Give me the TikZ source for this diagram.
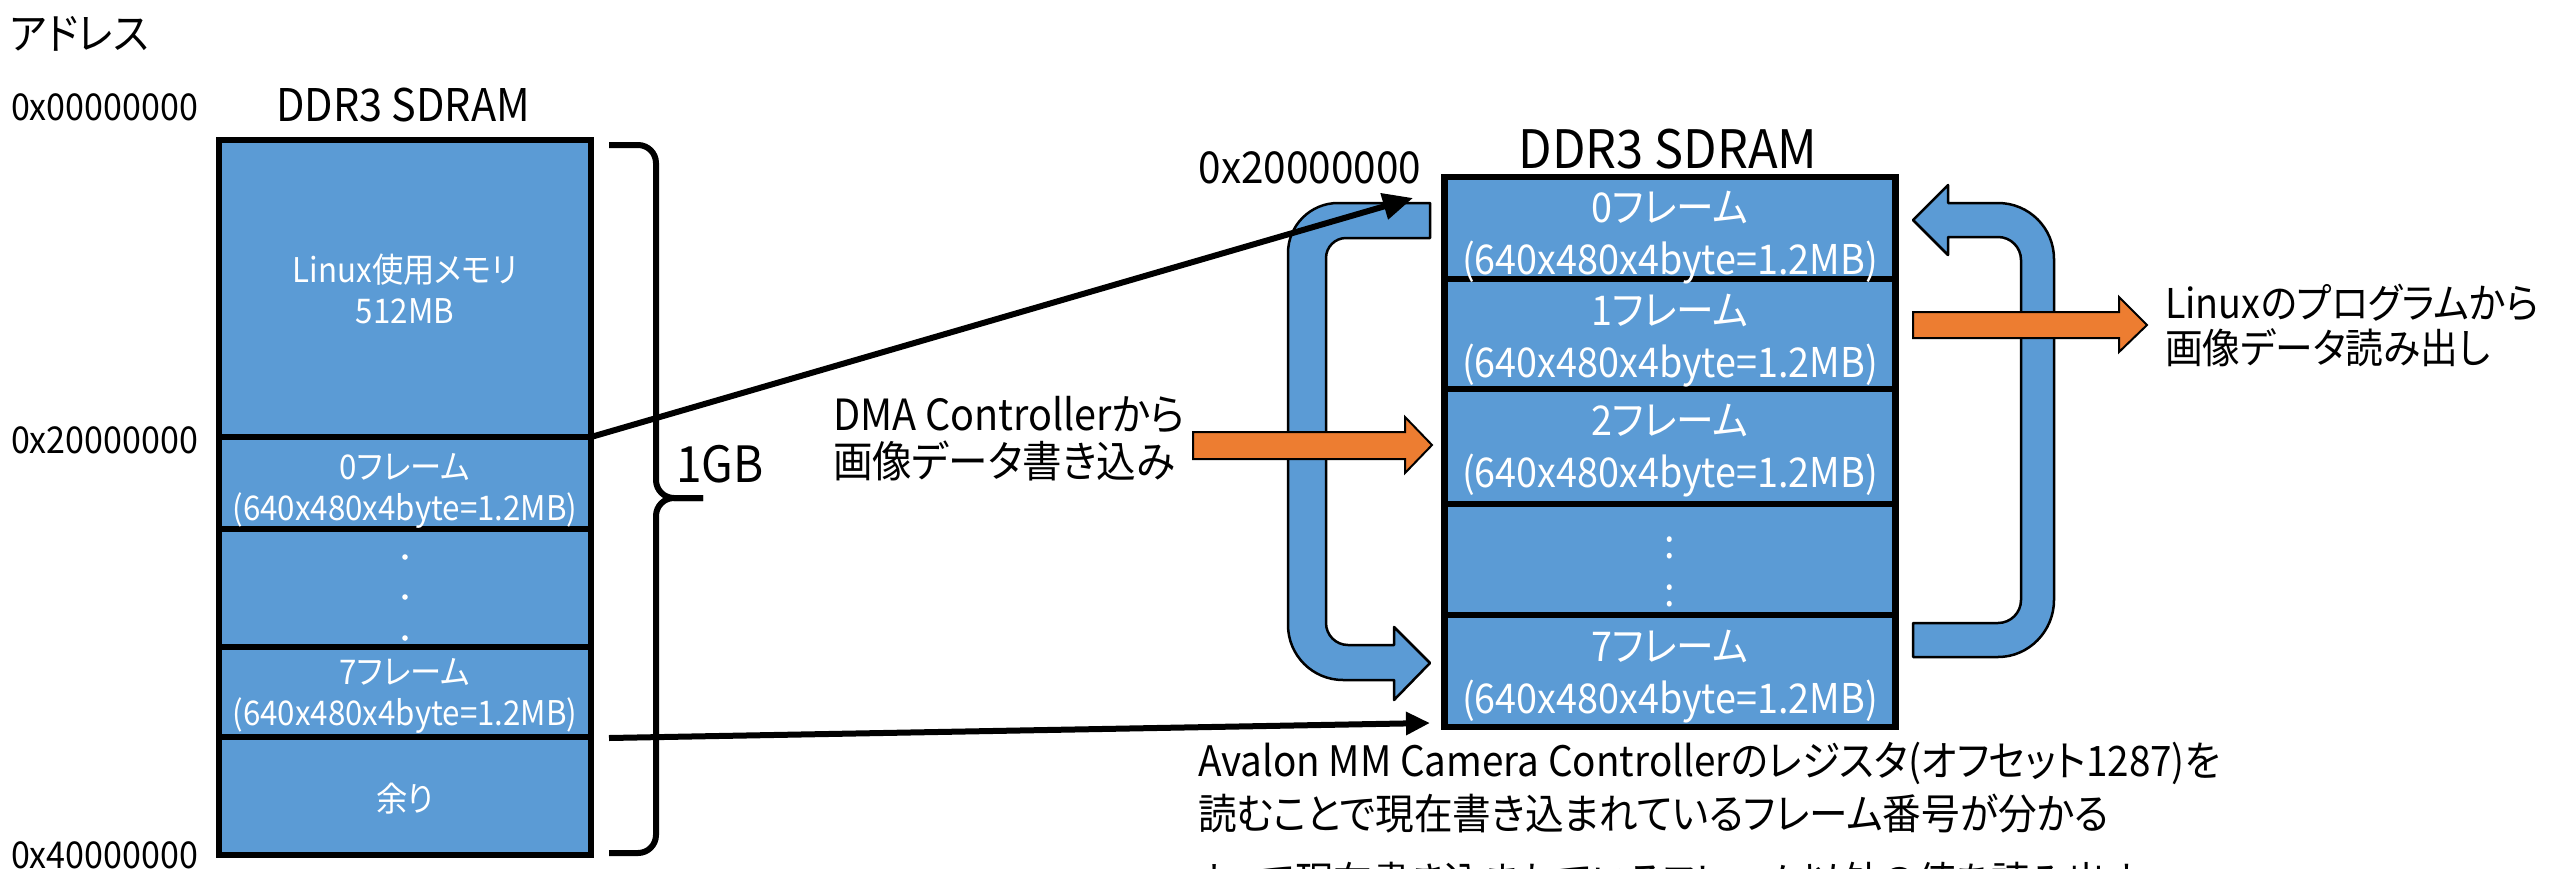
\documentclass[tikz,border=0pt]{standalone}
\usepackage{fontspec}
\setmainfont{Noto Sans CJK JP}[RawFeature={+palt},FakeStretch=0.92]
\usetikzlibrary{arrows.meta}
\definecolor{boxblue}{HTML}{5B9BD5}
\definecolor{arrorange}{HTML}{ED7D31}
\newcommand{\fsz}[2]{\fontsize{#1pt}{#2pt}\selectfont}
\begin{document}
\begin{tikzpicture}[x=1pt,y=-1pt,
  cell/.style={draw=black,line width=6.5pt,fill=boxblue,inner sep=0pt,outer sep=0pt},
  lcell/.style={cell,minimum width=372pt},
  rcell/.style={cell,minimum width=451pt},
  ltxt/.style={inner sep=0pt,text=white,align=center,font=\fsz{34}{41}},
  rtxt/.style={inner sep=0pt,text=white,align=center,font=\fsz{41}{52}},
  lbl/.style={inner sep=0pt,outer sep=0pt,text=black},
  blk/.style={line width=6pt,-{Triangle[length=30pt,width=26pt]}},
  blktwo/.style={line width=6pt,-{Triangle[length=24pt,width=22pt]}},
  bluearr/.style={fill=boxblue,draw=black,line width=2.5pt,line join=round},
  orgarr/.style={fill=arrorange,draw=black,line width=2pt},
  brace/.style={line width=6pt,rounded corners=18pt}]
\clip (0,0) rectangle (2554,868);
\fill[white] (0,0) rectangle (2554,868);

% left memory map
\node[lcell,minimum height=297pt] (L0) at (405,288.5) {};
\node[lcell,minimum height=92pt] (L1) at (405,483) {};
\node[lcell,minimum height=118pt] (L2) at (405,588) {};
\node[lcell,minimum height=90pt] (L3) at (405,692) {};
\node[lcell,minimum height=118pt] (L4) at (405,796) {};
\node[ltxt] (L0t) at (405,289) {Linux使用メモリ\\512MB};
\node[ltxt] (L1t) at (405,491) {0フレーム\\(640x480x4byte=1.2MB)};
\node[ltxt] (L3t) at (405,696) {7フレーム\\(640x480x4byte=1.2MB)};
\node[ltxt] (L4t) at (405,799) {余り};
\fill[white] (405,557) circle (2.8pt) (405,597) circle (2.8pt) (405,638) circle (2.8pt);

% right memory map
\node[rcell,minimum height=102pt] (R0) at (1670,228) {};
\node[rcell,minimum height=110pt] (R1) at (1670,334) {};
\node[rcell,minimum height=115pt] (R2) at (1670,446.5) {};
\node[rcell,minimum height=111pt] (R3) at (1670,559.5) {};
\node[rcell,minimum height=112pt] (R4) at (1670,671) {};
\node[rtxt] (R0t) at (1670,237.5) {0フレーム\\(640x480x4byte=1.2MB)};
\node[rtxt] (R1t) at (1670,340.5) {1フレーム\\(640x480x4byte=1.2MB)};
\node[rtxt] (R2t) at (1670,451) {2フレーム\\(640x480x4byte=1.2MB)};
\node[rtxt,font=\fsz{41}{48}] (R3t) at (1670,572) {:\\:};
\node[rtxt] (R4t) at (1670,677) {7フレーム\\(640x480x4byte=1.2MB)};

% brace
\draw[brace] (609,145) -| (656,498) -- (703,498);
\draw[brace] (609,853) -| (656,498) -- (703,498);

% blue U-turn arrows
\path[bluearr] (1430,203) -- (1338,203) .. controls (1310.4,203) and (1288,225.4) .. (1288,253) -- (1288,625) .. controls (1288,655.4) and (1312.6,680) .. (1343,680) -- (1394,680) -- (1394,700) -- (1430,663) -- (1394,627) -- (1394,645) -- (1348,645) .. controls (1335.9,645) and (1326,635.1) .. (1326,623) -- (1326,258) .. controls (1326,247) and (1335,238) .. (1346,238) -- (1430,238) -- cycle;
\path[bluearr] (1913,220) -- (1948,185) -- (1948,203) -- (1998,203) .. controls (2029,203) and (2054,228) .. (2054,259) -- (2054,600) .. controls (2054,631) and (2029,657) .. (1998,657) -- (1913,657) -- (1913,623) -- (1998,623) .. controls (2010.7,623) and (2021,612.7) .. (2021,600) -- (2021,260) .. controls (2021,247.3) and (2010.7,237) .. (1998,237) -- (1948,237) -- (1948,255) -- cycle;

% orange block arrows
\path[orgarr] (1193,432) -- (1405,432) -- (1405,417) -- (1432,445) -- (1405,473) -- (1405,459) -- (1193,459) -- cycle;
\path[orgarr] (1913,312) -- (2119,312) -- (2119,297) -- (2147,325) -- (2119,352) -- (2119,338) -- (1913,338) -- cycle;

% black arrows
\coordinate (A1) at (1413,198);
\draw[blk] (L0.south east) -- (A1);
\coordinate (A2s) at (609,738);
\coordinate (A2e) at (1430,723);
\draw[blktwo] (A2s) -- (A2e);

% labels
\node[lbl,anchor=west,font=\fsz{43}{50}] (addr) at (10,34) {アドレス};
\node[lbl,anchor=west,font=\fsz{37}{44}] (ad0) at (11,107) {0x00000000};
\node[lbl,anchor=west,font=\fsz{37}{44}] (ad2) at (11,440) {0x20000000};
\node[lbl,anchor=west,font=\fsz{37}{44}] (ad4) at (11,855) {0x40000000};
\node[lbl,font=\fsz{45}{50}] (tl) at (403,105) {DDR3 SDRAM};
\node[lbl,font=\fsz{53}{60}] (tr) at (1668,149) {DDR3 SDRAM};
\node[lbl,anchor=east,font=\fsz{44}{50}] (ra) at (1421,168) {0x20000000};
\node[lbl,anchor=west,font=\fsz{50}{56}] (gb) at (676,464) {1GB};
\node[lbl,anchor=west,align=left,font=\fsz{43}{47}] (dma) at (833,439) {DMA Controllerから\\画像データ書き込み};
\node[lbl,anchor=west,align=left,font=\fsz{41}{45}] (lx) at (2165,325) {Linuxのプログラムから\\画像データ読み出し};
\node[lbl,anchor=west,align=left,font=\fsz{42}{53}] (note) at (1198,788) {Avalon MM Camera Controllerのレジスタ(オフセット1287)を\\読むことで現在書き込まれているフレーム番号が分かる};
\node[lbl,anchor=west,font=\fsz{42}{50}] (note3) at (1198,882) {よって現在書き込まれているフレーム以外の値を読み出す};
\end{tikzpicture}
\end{document}
